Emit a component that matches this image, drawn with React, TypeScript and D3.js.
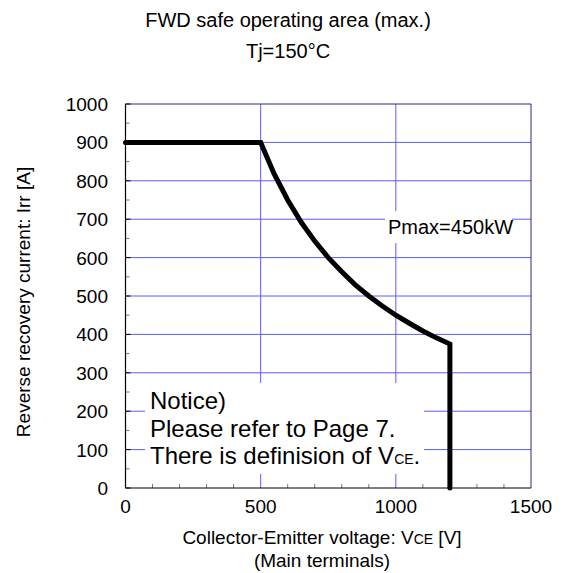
import React from "react";
import * as d3 from "d3";

const xTicks = [0, 500, 1000, 1500];
const yTicks = [0, 100, 200, 300, 400, 500, 600, 700, 800, 900, 1000];
const xMinor = [100, 200, 300, 400, 600, 700, 800, 900, 1100, 1200, 1300, 1400];
const yMinor = [50, 150, 250, 350, 450, 550, 650, 750, 850, 950];
const xGrid = [500, 1000];
const yGrid = [100, 200, 300, 400, 500, 600, 700, 800, 900];

// SOA boundary: VCE [V], Irr [A]
const soaV = [0, 500, 550, 600, 650, 700, 750, 800, 850, 900, 950, 1000, 1050, 1100, 1150, 1200, 1200];
const soaI = [900, 900, 818, 750, 692, 643, 600, 563, 529, 500, 474, 450, 429, 409, 391, 375, 0];

const W = 569;
const H = 573;
const FONT = "'Liberation Sans', Arial, sans-serif";
const GRID = "#5c5cff";
const FRAME = "#2a2a7a";

export default function App() {
  const x = d3.scaleLinear().domain([0, 1500]).range([125.5, 531]);
  const y = d3.scaleLinear().domain([0, 1000]).range([488, 104]);
  const line = d3
    .line<number>()
    .x((_, i) => x(soaV[i]))
    .y((d) => y(d));
  const path = line(soaI) || "";

  return (
    <svg
      width={W}
      height={H}
      style={{ position: "absolute", left: 0, top: 0, background: "#fff" }}
      fontFamily={FONT}
    >
      <rect x={0} y={0} width={W} height={H} fill="#fff" />
      {/* title */}
      <text x={288} y={27} textAnchor="middle" fontSize={20} fill="#000">
        FWD safe operating area (max.)
      </text>
      <text x={288} y={58} textAnchor="middle" fontSize={20} fill="#000">
        Tj=150°C
      </text>

      {/* grid */}
      {yGrid.map((v) => (
        <line key={"yg" + v} x1={x(0)} x2={x(1500)} y1={y(v)} y2={y(v)} stroke={GRID} strokeWidth={1} />
      ))}
      {xGrid.map((v) => (
        <line key={"xg" + v} x1={x(v)} x2={x(v)} y1={y(0)} y2={y(1000)} stroke={GRID} strokeWidth={1} />
      ))}

      {/* frame top/right */}
      <line x1={x(0)} x2={x(1500)} y1={y(1000)} y2={y(1000)} stroke={FRAME} strokeWidth={1} />
      <line x1={x(1500)} x2={x(1500)} y1={y(0)} y2={y(1000)} stroke={FRAME} strokeWidth={1} />

      {/* minor ticks */}
      {xMinor.map((v) => (
        <line key={"xm" + v} x1={x(v)} x2={x(v)} y1={y(0)} y2={y(0) - 4} stroke="#777" strokeWidth={1} />
      ))}
      {yMinor.map((v) => (
        <line key={"ym" + v} x1={x(0)} x2={x(0) + 4} y1={y(v)} y2={y(v)} stroke="#777" strokeWidth={1} />
      ))}
      {yTicks.map((v) => (
        <line key={"yt" + v} x1={x(0)} x2={x(0) + 5} y1={y(v)} y2={y(v)} stroke="#000" strokeWidth={1} />
      ))}

      {/* annotation boxes */}
      <rect x={385} y={211} width={127} height={32} fill="#fff" />
      <text x={388} y={234} fontSize={20} fill="#000">
        Pmax=450kW
      </text>
      <rect x={145} y={383} width={279} height={91} fill="#fff" />
      <text x={150} y={409} fontSize={24} fill="#000">
        Notice)
      </text>
      <text x={150} y={437} fontSize={24} fill="#000">
        Please refer to Page 7.
      </text>
      <text x={150} y={464} fontSize={24} fill="#000">
        There is definision of V<tspan fontSize={14}>CE</tspan>.
      </text>

      {/* axes */}
      <line x1={x(0)} x2={x(1500)} y1={y(0)} y2={y(0)} stroke="#000" strokeWidth={1.2} />
      <line x1={x(0)} x2={x(0)} y1={y(0)} y2={y(1000)} stroke="#000" strokeWidth={1.2} />

      {/* SOA curve */}
      <path d={path} fill="none" stroke="#000" strokeWidth={5} strokeLinecap="round" strokeLinejoin="miter" />

      {/* tick labels */}
      {xTicks.map((v) => (
        <text key={"xl" + v} x={x(v)} y={513} textAnchor="middle" fontSize={19} fill="#000">
          {v}
        </text>
      ))}
      {yTicks.map((v) => (
        <text key={"yl" + v} x={108} y={y(v) + 7} textAnchor="end" fontSize={19} fill="#000">
          {v}
        </text>
      ))}

      {/* axis titles */}
      <text x={322} y={544} textAnchor="middle" fontSize={19} fill="#000">
        Collector-Emitter voltage: V<tspan fontSize={14}>CE</tspan> [V]
      </text>
      <text x={322} y={567} textAnchor="middle" fontSize={19} fill="#000">
        (Main terminals)
      </text>
      <text
        transform="translate(30,302) rotate(-90)"
        textAnchor="middle"
        fontSize={19}
        fill="#000"
      >
        Reverse recovery current: Irr [A]
      </text>
    </svg>
  );
}
